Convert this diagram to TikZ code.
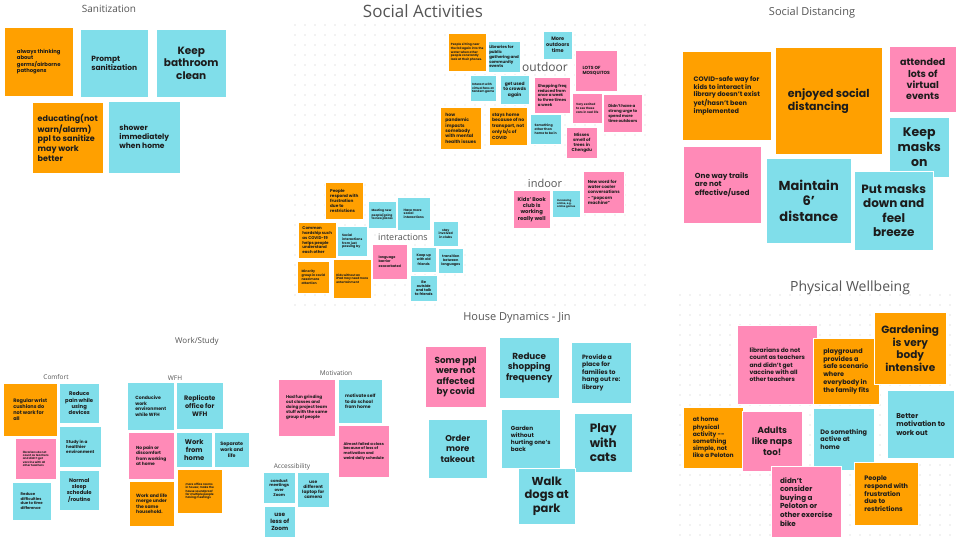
\documentclass[tikz,border=0pt]{standalone}
\usepackage{fontspec}
\setmainfont{Poppins}
\newfontfamily\headfont{Open Sans}
\usepackage{xcolor}
\usepackage{tikz}
\usetikzlibrary{positioning}

\definecolor{noteorange}{HTML}{FFA000}
\definecolor{noteblue}{HTML}{80DEEA}
\definecolor{notepink}{HTML}{FF8AB7}
\definecolor{notetext}{HTML}{1C1C1C}
\definecolor{headgray}{HTML}{555555}
\definecolor{dotgray}{HTML}{C8C8C8}

\newcommand{\fsz}[1]{\fontsize{#1}{\dimexpr#1pt*6/5\relax}\selectfont}

\begin{document}
\begin{tikzpicture}[
    x=1pt, y=-1pt,
    note/.style={anchor=north west, inner sep=1pt, draw=white, line width=0.5pt, text=notetext, align=left},
    org/.style={note, fill=noteorange},
    blu/.style={note, fill=noteblue},
    pnk/.style={note, fill=notepink},
    mid/.style={align=center},
    sz/.style 2 args={minimum width=#1pt, minimum height=#2pt},
    fb/.style={font=\fsz{#1}\bfseries},
    head/.style={text=headgray, font=\headfont\fsz{#1}}
    ]
    \useasboundingbox[fill=white] (0,0) rectangle (960,540);

    % dotted boards
    \foreach \x in {295,305,...,645}
      \foreach \y in {25,35,...,305}
        \fill[dotgray] (\x,\y) circle (0.6pt);
    \foreach \x in {680,690,...,955}
      \foreach \y in {295,305,...,535}
        \fill[dotgray] (\x,\y) circle (0.6pt);

    % Sanitization
    \node[head=10] (santitle) at (109,9) {Sanitization};
    \node[org, sz={69}{69}, fb=5.3] (san1) at (4,27) {always thinking\\about\\germs/airborne\\pathogens};
    \node[blu, sz={68}{68}, fb=7.5] (san2) at (80,29) {Prompt\\sanitization};
    \node[blu, sz={70}{68}, fb=10.5, mid] (san3) at (156,29) {Keep\\bathroom\\clean};
    \node[org, sz={71}{71}, fb=8] (san4) at (32,102) {educating(not\\warn/alarm)\\ppl to sanitize\\may work\\better};
    \node[blu, sz={72}{72}, fb=7.5] (san5) at (108,101) {shower\\immediately\\when home};

    % Social Activities
    \node[head=17] (soctitle) at (423,11) {Social Activities};

    % outdoor
    \node[org, sz={38}{38}, fb=3] (out1) at (448,33) {People sitting near\\the fall again into the\\water when other\\people constantly\\look at their phones.};
    \node[blu, sz={31}{31}, fb=4] (out2) at (488,41) {Libraries for\\public\\gathering and\\community\\events};
    \node[blu, sz={29}{28}, fb=5, mid] (out3) at (543,31) {More\\outdoors\\time};
    \node[head=12] (outlbl) at (545,67) {outdoor};
    \node[pnk, sz={42}{41}, fb=4.5] (out4) at (575,50) {LOTS OF\\MOSQUITOS};
    \node[blu, sz={26}{26}, fb=3] (out5) at (470,75) {Interact with\\virtual fans at\\tandem game};
    \node[blu, sz={29}{29}, fb=4.5, mid] (out6) at (500,75) {get used\\to crowds\\again};
    \node[pnk, sz={36}{36}, fb=4] (out7) at (534,77) {Shopping freq\\reduced from\\once a week\\to three times\\a week};
    \node[pnk, sz={30}{30}, fb=3] (out8) at (572,93) {Very excited\\to see these\\cars in real life};
    \node[pnk, sz={39}{38}, fb=4] (out9) at (603,94) {Didn't have a\\strong urge to\\spend more\\time outdoors};
    \node[org, sz={41}{42}, fb=4.5] (out10) at (440,107) {how\\pandemic\\impacts\\somebody\\with mental\\health issues};
    \node[org, sz={38}{38}, fb=4.5] (out11) at (489,107) {stays home\\because of no\\transport, not\\only b/c of\\COVID};
    \node[blu, sz={31}{30}, fb=3.2] (out12) at (530,114) {Something\\other than\\home to be in};
    \node[pnk, sz={31}{31}, fb=4.3, mid] (out13) at (566,127) {Misses\\smell of\\trees in\\Chengdu};

    % interactions
    \node[org, sz={38}{37}, fb=4.2] (int1) at (325,182) {People\\respond with\\frustration\\due to\\restrictions};
    \node[blu, sz={28}{27}, fb=3] (int2) at (368,201) {Meeting new\\people/going\\to new places};
    \node[blu, sz={33}{33}, fb=3.2] (int3) at (397,197) {Have more\\social\\interactions};
    \node[blu, sz={25}{25}, fb=3.2, mid] (int4) at (433,221) {stay\\involved\\in clubs};
    \node[org, sz={38}{36}, fb=4] (int5) at (298,222) {Common\\hardship such\\as COVID-19\\helps people\\understand\\each other};
    \node[blu, sz={30}{30}, fb=3.2] (int6) at (337,226) {Social\\interactions\\from just\\passing by};
    \node[head=9] (intlbl) at (403,237) {interactions};
    \node[pnk, sz={35}{35}, fb=3.4] (int7) at (372,244) {language\\barrier\\exacerbated};
    \node[blu, sz={25}{25}, fb=3.4, mid] (int8) at (411,247) {Keep up\\with old\\friends};
    \node[blu, sz={25}{25}, fb=3.4, mid] (int9) at (438,248) {transition\\between\\languages};
    \node[blu, sz={27}{26}, fb=3.6, mid] (int10) at (410,275) {Be\\outside\\and talk\\to friends};
    \node[org, sz={32}{32}, fb=3.2] (int11) at (297,261) {Minority\\group in covid\\need more\\attention};
    \node[org, sz={38}{39}, fb=3] (int12) at (333,259) {Kids without an\\iPad may need more\\entertainment};

    % indoor
    \node[head=11] (indlbl) at (545,183) {indoor};
    \node[pnk, sz={37}{38}, fb=5.3, mid] (ind1) at (513,190) {Kids' Book\\club is\\working\\really well};
    \node[blu, sz={28}{27}, fb=2.6] (ind2) at (552,190) {Increasing\\online, e.g.\\online games};
    \node[pnk, sz={41}{42}, fb=4.3] (ind3) at (583,171) {New word for\\water cooler\\conversations\\- “popcorn\\machine”};

    % Social Distancing
    \node[head=11] (distitle) at (812,13) {Social Distancing};
    \node[org, sz={89}{89}, fb=6.5] (dis1) at (682,51) {COVID-safe way for\\kids to interact in\\library doesn't exist\\yet/hasn't been\\implemented};
    \node[org, sz={107}{107}, fb=11] (dis2) at (775,47) {enjoyed social\\distancing};
    \node[pnk, sz={67}{66}, fb=9.5, mid] (dis3) at (889,46) {attended\\lots of\\virtual\\events};
    \node[pnk, sz={78}{77}, fb=7.3] (dis4) at (683,146) {One way trails\\are not\\effective/used};
    \node[blu, sz={60}{60}, fb=12.5, mid] (dis5) at (889,117) {Keep\\masks\\on};
    \node[blu, sz={85}{85}, fb=13, mid] (dis6) at (766,158) {Maintain\\6'\\distance};
    \node[blu, sz={79}{79}, fb=12, mid] (dis7) at (854,171) {Put masks\\down and\\feel\\breeze};

    % Physical Wellbeing
    \node[head=14] (phytitle) at (850,288) {Physical Wellbeing};
    \node[pnk, sz={80}{79}, fb=6] (phy1) at (737,325) {librarians do not\\count as teachers\\and didn't get\\vaccine with all\\other teachers};
    \node[org, sz={66}{66}, fb=6.5] (phy2) at (813,338) {playground\\provides a\\safe scenario\\where\\everybody in\\the family fits};
    \node[org, sz={72}{72}, fb=10.5, mid] (phy3) at (874,312) {Gardening\\is very\\body\\intensive};
    \node[blu, sz={67}{68}, fb=7] (phy4) at (887,390) {Better\\motivation to\\work out};
    \node[org, sz={60}{61}, fb=6] (phy5) at (683,407) {at home\\physical\\activity -{}-\\something\\simple, not\\like a Peloton};
    \node[pnk, sz={60}{60}, fb=8.8, mid] (phy6) at (742,411) {Adults\\like naps\\too!};
    \node[blu, sz={61}{62}, fb=6.5] (phy7) at (813,408) {Do something\\active at\\home};
    \node[pnk, sz={70}{71}, fb=7.2] (phy8) at (771,466) {didn't\\consider\\buying a\\Peloton or\\other exercise\\bike};
    \node[org, sz={64}{63}, fb=6.5] (phy9) at (854,462) {People\\respond with\\frustration\\due to\\restrictions};

    % Work/Study
    \node[head=8] (worktitle) at (197,341) {Work/Study};
    \node[head=6.5] (comlbl) at (56,377) {Comfort};
    \node[org, sz={54}{53}, fb=5] (com1) at (3,383) {Regular wrist\\cushions do\\not work for\\all};
    \node[blu, sz={40}{40}, fb=5.3, mid] (com2) at (59,383) {Reduce\\pain while\\using\\devices};
    \node[pnk, sz={41}{41}, fb=2.8] (com3) at (15,438) {librarians do not\\count as teachers\\and didn't get\\vaccine with all\\other teachers};
    \node[blu, sz={42}{41}, fb=4.2] (com4) at (59,426) {Study in a\\healthier\\environment};
    \node[blu, sz={40}{40}, fb=5.3, mid] (com5) at (59,470) {Normal\\sleep\\schedule\\/routine};
    \node[blu, sz={39}{38}, fb=3.8] (com6) at (12,482) {Reduce\\difficulties\\due to time\\difference};

    \node[head=6.5] (wfhlbl) at (175,378) {WFH};
    \node[blu, sz={47}{48}, fb=4.6] (wfh1) at (127,382) {Conducive\\work\\environment\\while WFH};
    \node[blu, sz={47}{47}, fb=6.5, mid] (wfh2) at (176,382) {Replicate\\office for\\WFH};
    \node[pnk, sz={46}{47}, fb=4.4] (wfh3) at (128,432) {No pain or\\discomfort\\from working\\at home};
    \node[blu, sz={36}{35}, fb=6.8, mid] (wfh4) at (176,432) {Work\\from\\home};
    \node[blu, sz={35}{35}, fb=4.8, mid] (wfh5) at (214,432) {Separate\\work and\\life};
    \node[org, sz={45}{44}, fb=2.9] (wfh6) at (177,469) {more office rooms\\in house; make the\\house soundproof\\for multiple people\\having meetings};
    \node[org, sz={45}{45}, fb=4.6] (wfh7) at (129,481) {Work and life\\merge under\\the same\\household.};

    \node[head=6.5] (motlbl) at (336,373) {Motivation};
    \node[pnk, sz={57}{57}, fb=4.2] (mot1) at (278,379) {Had fun grinding\\out classes and\\doing project team\\stuff with the same\\group of people};
    \node[blu, sz={44}{44}, fb=4.5] (mot2) at (338,379) {motivate self\\to do school\\from home};
    \node[pnk, sz={51}{52}, fb=3.8] (mot3) at (338,425) {Almost failed a class\\because of loss of\\motivation and\\weird daily schedule};

    \node[head=6.5] (acclbl) at (292,467) {Accessibility};
    \node[blu, sz={32}{31}, fb=4, mid] (acc1) at (263,472) {conduct\\meetings\\over\\Zoom};
    \node[blu, sz={32}{35}, fb=4.4, mid] (acc2) at (297,472) {use\\different\\laptop for\\camera};
    \node[blu, sz={31}{31}, fb=5.8, mid] (acc3) at (264,506) {use\\less of\\Zoom};

    % House Dynamics
    \node[head=11] (housetitle) at (517,318) {House Dynamics - Jin};
    \node[pnk, sz={61}{61}, fb=8.8, mid] (hou1) at (425,346) {Some ppl\\were not\\affected\\by covid};
    \node[blu, sz={60}{61}, fb=8.8, mid] (hou2) at (499,337) {Reduce\\shopping\\frequency};
    \node[blu, sz={60}{61}, fb=6.2] (hou3) at (571,342) {Provide a\\place for\\families to\\hang out re:\\library};
    \node[blu, sz={59}{59}, fb=8.5, mid] (hou4) at (428,419) {Order\\more\\takeout};
    \node[blu, sz={59}{59}, fb=5.8] (hou5) at (501,409) {Garden\\without\\hurting one's\\back};
    \node[blu, sz={58}{59}, fb=12, mid] (hou6) at (574,413) {Play\\with\\cats};
    \node[blu, sz={57}{56}, fb=11.5, mid] (hou7) at (518,468) {Walk\\dogs at\\park};
  \end{tikzpicture}
\end{document}
